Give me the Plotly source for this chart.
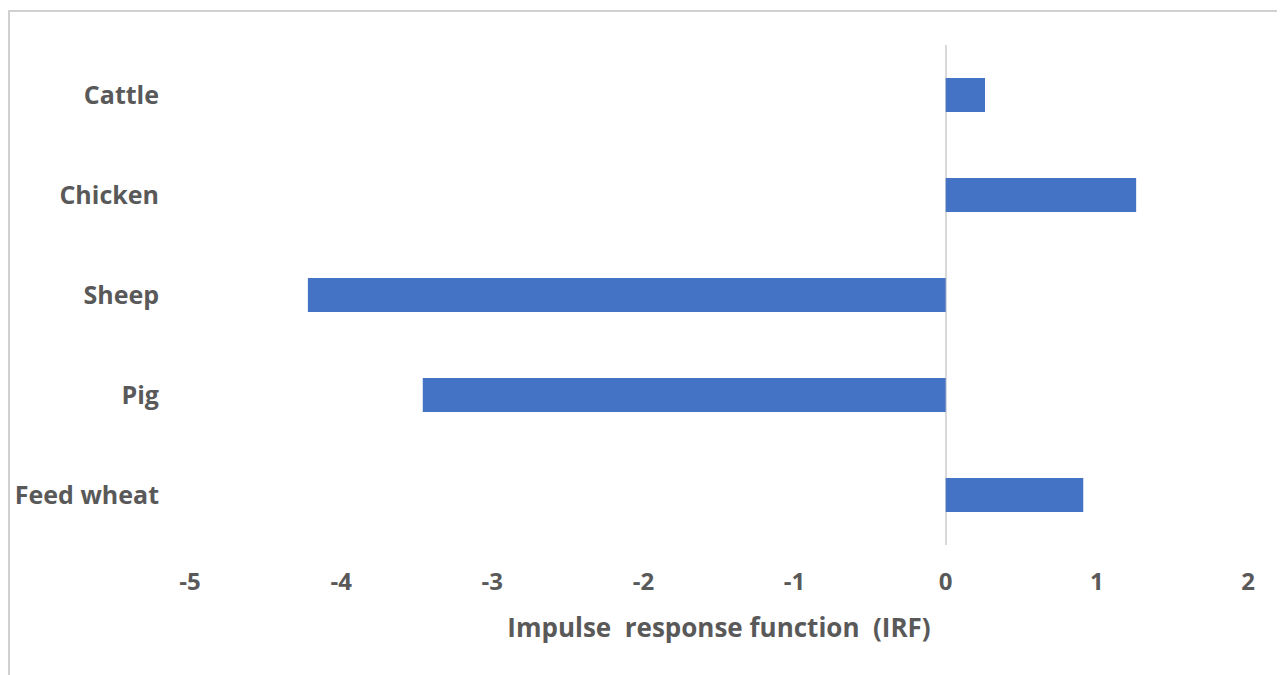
import plotly.graph_objects as go

categories = ["Cattle", "Chicken", "Sheep", "Pig", "Feed wheat"]
irf_values = [0.26, 1.26, -4.22, -3.46, 0.91]
x_ticks = [-5, -4, -3, -2, -1, 0, 1, 2]

FONT = "Open Sans"
GREY = "#595959"

fig = go.Figure(
    go.Bar(
        y=categories,
        x=irf_values,
        orientation="h",
        marker=dict(color="#4472C4", line=dict(width=0)),
        width=0.34,
    )
)

fig.update_layout(
    width=1285,
    height=675,
    margin=dict(l=182, r=45, t=37, b=138, autoexpand=False),
    paper_bgcolor="white",
    plot_bgcolor="white",
    showlegend=False,
    font=dict(family=FONT, size=24, color=GREY),
    shapes=[
        dict(
            type="rect", xref="paper", yref="paper",
            x0=-181 / 1058, x1=1 + 33 / 1058,
            y0=-145 / 500, y1=1 + 34 / 500,
            line=dict(color="#d0d0d0", width=2),
            fillcolor="rgba(0,0,0,0)",
            layer="below",
        )
    ],
)

fig.update_xaxes(
    range=[-5, 2],
    tickvals=x_ticks,
    ticktext=[str(v) for v in x_ticks],
    showgrid=False,
    showline=False,
    zeroline=True,
    zerolinecolor="#d9d9d9",
    zerolinewidth=2,
    ticks="",
    ticklabelstandoff=20,
    tickfont=dict(family=FONT, size=24, color=GREY, weight="bold"),
    title=dict(
        text="Impulse\u00a0 response function\u00a0 (IRF)",
        font=dict(family=FONT, size=26, color=GREY, weight="bold"),
        standoff=22,
    ),
    automargin=False,
    fixedrange=True,
)

fig.update_yaxes(
    categoryorder="array",
    categoryarray=categories,
    autorange="reversed",
    showgrid=False,
    showline=False,
    zeroline=False,
    ticks="",
    ticklabelstandoff=30,
    tickfont=dict(family=FONT, size=25, color=GREY, weight="bold"),
    automargin=False,
    fixedrange=True,
)

fig.write_html("out.html")
